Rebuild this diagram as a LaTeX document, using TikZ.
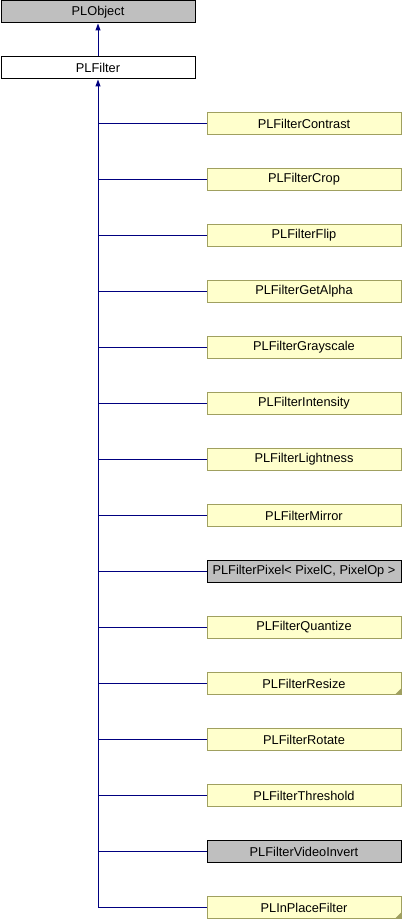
\documentclass[tikz,border=0pt]{standalone}
\usepackage{fontspec}
\setmainfont{Liberation Sans}
\usetikzlibrary{arrows.meta}
\definecolor{ybox}{HTML}{FFFFCC}
\definecolor{yborder}{HTML}{A0A060}
\definecolor{gbox}{HTML}{BFBFBF}
\definecolor{edgeblue}{HTML}{000080}
\tikzset{
  cls/.style={draw=black, line width=1pt, minimum width=194pt, minimum height=22pt, inner sep=0pt, font=\fontsize{12.8pt}{14pt}\selectfont, anchor=west},
  grayc/.style={cls, fill=gbox},
  whitec/.style={cls, fill=white},
  yellowc/.style={cls, fill=ybox, draw=yborder},
  inh/.style={draw=edgeblue, line width=1pt},
  inharrow/.style={draw=edgeblue, line width=1pt, -{Triangle[width=5pt,length=7pt]}},
}
\begin{document}
\begin{tikzpicture}[x=1pt,y=-1pt]
\useasboundingbox (0,0) rectangle (402,920);
\node[grayc] (obj) at (0.5,12) {PLObject};
\node[whitec] (flt) at (0.5,68) {PLFilter};
\draw[inharrow] (flt.north -| 98,0) -- (obj.south -| 98,0);
\foreach \i/\name/\sty/\fold in {
  0/PLFilterContrast/yellowc/0,
  1/PLFilterCrop/yellowc/0,
  2/PLFilterFlip/yellowc/0,
  3/PLFilterGetAlpha/yellowc/0,
  4/PLFilterGrayscale/yellowc/0,
  5/PLFilterIntensity/yellowc/0,
  6/PLFilterLightness/yellowc/0,
  7/PLFilterMirror/yellowc/0,
  8/{PLFilterPixel< PixelC, PixelOp >}/grayc/0,
  9/PLFilterQuantize/yellowc/0,
  10/PLFilterResize/yellowc/1,
  11/PLFilterRotate/yellowc/0,
  12/PLFilterThreshold/yellowc/0,
  13/PLFilterVideoInvert/grayc/0,
  14/PLInPlaceFilter/yellowc/1}{
  \node[\sty] (c\i) at (206.5,{123.5+56*\i}) {\name};
  \coordinate (j\i) at (98,{123.5+56*\i});
  \draw[inh] (j\i) -- (c\i.west);
  \ifnum\fold=1
    \fill[yborder] ([shift={(-0.5,-0.5)}]c\i.south east) -- ++(-6,0) -- ++(6,-6) -- cycle;
  \fi
}
\draw[inharrow] (j14) -- (flt.south -| 98,0);
\end{tikzpicture}
\end{document}
